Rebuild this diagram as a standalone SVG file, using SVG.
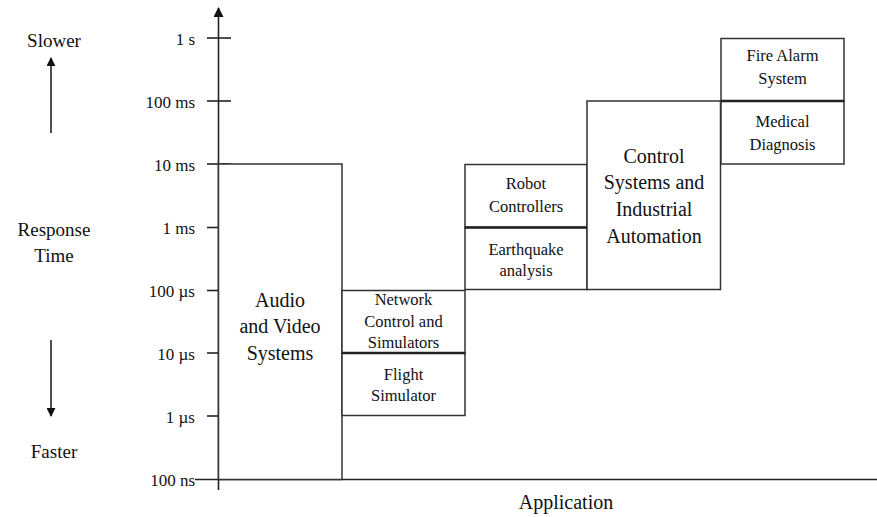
<svg xmlns="http://www.w3.org/2000/svg" width="877" height="517" viewBox="0 0 877 517">
  <style>
    text { fill: #111; font-family: Liberation Serif, Tinos, Times New Roman, DejaVu Serif, serif; }
    .tick-label { font-size: 17px; text-anchor: end; }
    .side { font-size: 19px; text-anchor: middle; }
    .big { font-size: 20px; text-anchor: middle; }
    .small { font-size: 16.5px; text-anchor: middle; }
    .box { fill: #fff; stroke: #333; stroke-width: 1.5; }
    .seam { stroke: #222; stroke-width: 2.6; }
    .axis { stroke: #222; stroke-width: 1.6; fill: none; }
    .tick { stroke: #222; stroke-width: 1.6; }
  </style>
  <defs>
    <marker id="head" viewBox="0 0 10 10" refX="9" refY="5" markerWidth="9" markerHeight="9" markerUnits="userSpaceOnUse" orient="auto">
      <path d="M0,0 L10,5 L0,10 z" fill="#111"/>
    </marker>
    <marker id="headBig" viewBox="0 0 10 10" refX="9" refY="5" markerWidth="10" markerHeight="10" markerUnits="userSpaceOnUse" orient="auto">
      <path d="M0,0 L10,5 L0,10 z" fill="#111"/>
    </marker>
  </defs>

  <!-- Axes and ticks -->
  <g id="axes">
    <line class="axis" x1="218.5" y1="490" x2="218.5" y2="8" marker-end="url(#headBig)"/>
    <line class="axis" x1="195" y1="479.5" x2="877" y2="479.5"/>
    <line class="tick" x1="207" y1="38" x2="231" y2="38"/>
    <line class="tick" x1="207" y1="101" x2="231" y2="101"/>
    <line class="tick" x1="207" y1="164" x2="231" y2="164"/>
    <line class="tick" x1="207" y1="227.5" x2="231" y2="227.5"/>
    <line class="tick" x1="207" y1="290.5" x2="231" y2="290.5"/>
    <line class="tick" x1="207" y1="353" x2="231" y2="353"/>
    <line class="tick" x1="207" y1="416" x2="231" y2="416"/>
    <text class="tick-label" x="195" y="45">1 s</text>
    <text class="tick-label" x="195" y="108">100 ms</text>
    <text class="tick-label" x="195" y="171">10 ms</text>
    <text class="tick-label" x="195" y="234">1 ms</text>
    <text class="tick-label" x="195" y="297">100 µs</text>
    <text class="tick-label" x="195" y="360">10 µs</text>
    <text class="tick-label" x="195" y="423">1 µs</text>
    <text class="tick-label" x="195" y="486">100 ns</text>
    <text class="big" x="566" y="509">Application</text>
  </g>

  <!-- Response-time legend -->
  <g id="legend">
    <text class="side" x="54" y="47">Slower</text>
    <line class="axis" x1="51" y1="133" x2="51" y2="58" marker-end="url(#head)"/>
    <text class="side" x="54" y="236">Response</text>
    <text class="side" x="54" y="262">Time</text>
    <line class="axis" x1="51" y1="340" x2="51" y2="416" marker-end="url(#head)"/>
    <text class="side" x="54" y="458">Faster</text>
  </g>

  <!-- Application blocks -->
  <g id="audio-video">
    <rect class="box" x="218.5" y="164" width="123.5" height="315.5"/>
    <text class="big" x="280" y="307">Audio</text>
    <text class="big" x="280" y="333">and Video</text>
    <text class="big" x="280" y="360">Systems</text>
  </g>
  <g id="network-control">
    <rect class="box" x="342" y="290.5" width="123" height="62.5"/>
    <text class="small" x="403.5" y="305">Network</text>
    <text class="small" x="403.5" y="327">Control and</text>
    <text class="small" x="403.5" y="348">Simulators</text>
  </g>
  <g id="flight-simulator">
    <rect class="box" x="342" y="353" width="123" height="62.5"/>
    <text class="small" x="403.5" y="380">Flight</text>
    <text class="small" x="403.5" y="401">Simulator</text>
  </g>
  <g id="robot-controllers">
    <rect class="box" x="465" y="164.5" width="122" height="63"/>
    <text class="small" x="526" y="189">Robot</text>
    <text class="small" x="526" y="212">Controllers</text>
  </g>
  <g id="earthquake-analysis">
    <rect class="box" x="465" y="227.5" width="122" height="62"/>
    <text class="small" x="526" y="255">Earthquake</text>
    <text class="small" x="526" y="276">analysis</text>
  </g>
  <g id="industrial-control">
    <rect class="box" x="587" y="101" width="133.5" height="188.5"/>
    <text class="big" x="654" y="163">Control</text>
    <text class="big" x="654" y="189">Systems and</text>
    <text class="big" x="654" y="216">Industrial</text>
    <text class="big" x="654" y="243">Automation</text>
  </g>
  <g id="fire-alarm">
    <rect class="box" x="721" y="38.5" width="123" height="62.5"/>
    <text class="small" x="782.5" y="61">Fire Alarm</text>
    <text class="small" x="782.5" y="84">System</text>
  </g>
  <g id="medical-diagnosis">
    <rect class="box" x="721" y="101" width="123" height="63"/>
    <text class="small" x="782.5" y="127">Medical</text>
    <text class="small" x="782.5" y="150">Diagnosis</text>
  </g>

  <!-- Heavier seams where stacked blocks meet -->
  <g id="seams">
    <line class="seam" x1="342" y1="353" x2="465" y2="353"/>
    <line class="seam" x1="465" y1="227.5" x2="587" y2="227.5"/>
    <line class="seam" x1="721" y1="101" x2="844" y2="101"/>
  </g>
</svg>
